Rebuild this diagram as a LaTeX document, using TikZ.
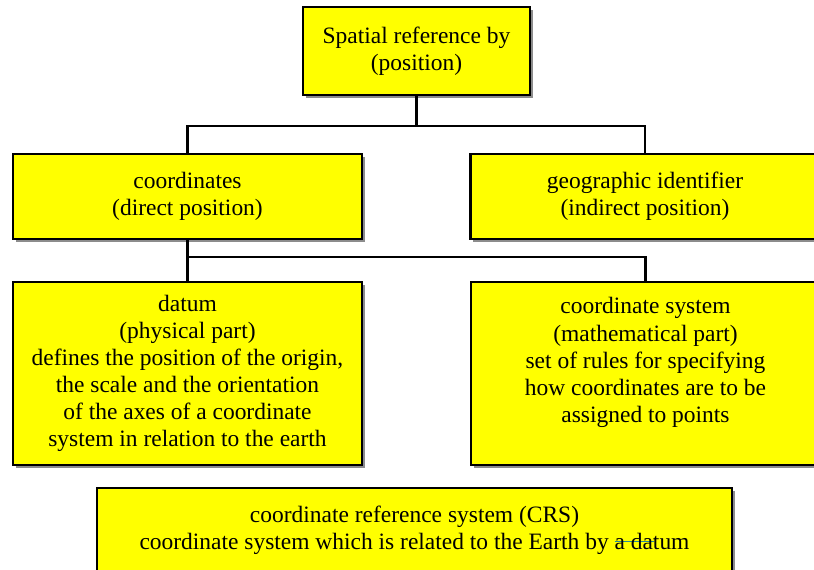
\documentclass[tikz,border=0pt]{standalone}
\usepackage{fontspec}
\setmainfont{Liberation Serif}
\usepackage{xcolor}
\usepackage{tikz}
\usetikzlibrary{shapes,positioning,shadows,calc}

\definecolor{boxyellow}{RGB}{255,255,0}
\definecolor{strikecol}{RGB}{40,140,150}
\tikzset{
  box/.style={rectangle,draw=black,line width=1.6pt,fill=boxyellow,align=center,
    inner sep=0pt,font=\fontsize{17.6}{20.3}\selectfont,
    drop shadow={shadow xshift=2.2pt,shadow yshift=-2.2pt,fill=black!45,opacity=1}},
  link/.style={draw=black,line width=1.6pt}
}

\begin{document}
\begin{tikzpicture}[x=0.75pt,y=-0.75pt]
    \useasboundingbox (0,0) rectangle (814,569);
    \clip (0,0) rectangle (814,569);

    % 方框
    \node[box,minimum width=170.25pt,minimum height=66pt] (spatial) at (416.5,51) {Spatial reference by\\(position)};
    \node[box,minimum width=261.75pt,minimum height=63.75pt] (coords) at (187.5,196.5) {coordinates\\(direct position)};
    \node[box,minimum width=261.75pt,minimum height=63.75pt] (geo) at (645,196.5) {geographic identifier\\(indirect position)};
    \node[box,minimum width=261.75pt,minimum height=137.25pt] (datum) at (187.5,373.5) {datum\\(physical part)\\defines the position of the origin,\\the scale and the orientation\\of the axes of a coordinate\\system in relation to the earth};
    \node[box,minimum width=261.75pt,minimum height=137.25pt] (cs) at (645.5,373.5) {coordinate system\\(mathematical part)\\set of rules for specifying\\how coordinates are to be\\assigned to points\\ ~};
    \node[box,minimum width=476.25pt,minimum height=63pt] (crs) at (414.5,530) {coordinate reference system (CRS)\\coordinate system which is related to the Earth by
      \makebox[0pt][l]{\color{strikecol}\rule[0.3em]{1.7em}{0.9pt}}a datum};

    % 连线
    \coordinate (bus1) at (416.5,126);
    \coordinate (bus2) at (187.5,257);
    \draw[link] (spatial.south) -- (bus1);
    \draw[link] (coords.north) |- (bus1) -| (geo.north);
    \draw[link] (coords.south) -- (datum.north);
    \draw[link] (bus2) -| (cs.north);
\end{tikzpicture}
\end{document}
